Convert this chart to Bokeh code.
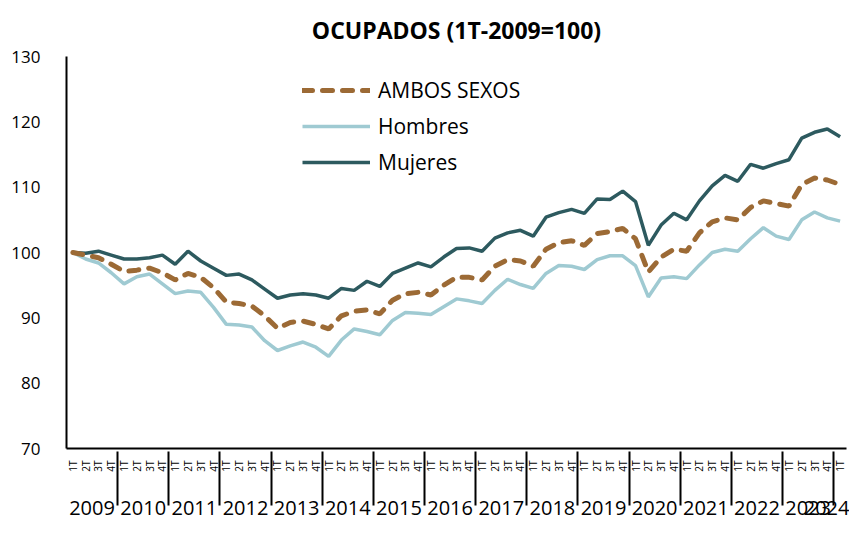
from bokeh.plotting import figure
from bokeh.models import FactorRange, Range1d, Legend, LegendItem, ColumnDataSource, FixedTicker
from bokeh.embed import file_html
from bokeh.resources import INLINE
import math

years = [str(y) for y in range(2009, 2025)]
quarters = ["1T", "2T", "3T", "4T"]
n_last_year = 1

ambos = [100.0, 99.6, 99.2, 98.2, 97.1, 97.3, 97.6, 96.9, 95.8, 96.8, 96.2, 94.6,
         92.4, 92.2, 91.8, 90.3, 88.4, 89.3, 89.5, 89.0, 88.3, 90.3, 91.0, 91.2,
         90.6, 92.7, 93.7, 93.9, 93.5, 95.0, 96.2, 96.2, 95.8, 97.9, 98.9, 98.7,
         97.9, 100.5, 101.5, 101.8, 101.1, 102.9, 103.2, 103.7, 102.1, 97.0, 99.3, 100.5,
         100.2, 103.0, 104.7, 105.3, 105.0, 106.9, 107.9, 107.5, 107.1, 110.4, 111.4, 111.1,
         110.4]
hombres = [100.0, 99.0, 98.4, 96.9, 95.2, 96.3, 96.7, 95.2, 93.7, 94.1, 93.9, 91.6,
           89.0, 88.9, 88.6, 86.5, 85.0, 85.7, 86.3, 85.5, 84.1, 86.6, 88.3, 87.9,
           87.4, 89.6, 90.8, 90.7, 90.5, 91.7, 92.9, 92.6, 92.2, 94.2, 95.9, 95.1,
           94.5, 96.8, 98.0, 97.9, 97.4, 98.9, 99.5, 99.5, 98.0, 93.2, 96.1, 96.3,
           96.0, 98.1, 100.0, 100.5, 100.2, 102.1, 103.8, 102.5, 102.0, 105.0, 106.2, 105.3,
           104.8]
mujeres = [100.0, 99.9, 100.2, 99.6, 99.0, 99.0, 99.2, 99.6, 98.2, 100.2, 98.7, 97.6,
           96.5, 96.7, 95.8, 94.4, 93.0, 93.5, 93.7, 93.5, 93.0, 94.5, 94.2, 95.6,
           94.8, 96.8, 97.6, 98.4, 97.8, 99.3, 100.6, 100.7, 100.2, 102.2, 103.0, 103.4,
           102.5, 105.4, 106.1, 106.6, 106.0, 108.2, 108.1, 109.4, 107.8, 101.1, 104.2, 106.0,
           105.0, 107.9, 110.2, 111.8, 110.9, 113.5, 112.9, 113.6, 114.2, 117.5, 118.4, 118.9,
           117.7]
y_ticks = [70, 80, 90, 100, 110, 120, 130]

# middle level is a blank spacer row between quarter labels and year labels
spacer = " "
factors = []
for y in years[:-1]:
    for q in quarters:
        factors.append((y, spacer, q))
for q in quarters[:n_last_year]:
    factors.append((years[-1], spacer, q))

src = ColumnDataSource(dict(x=factors, ambos=ambos, hombres=hombres, mujeres=mujeres))

p = figure(width=849, height=525,
           x_range=FactorRange(*factors, range_padding=0, group_padding=0,
                               subgroup_padding=0, factor_padding=0),
           y_range=Range1d(70, 130),
           output_backend="svg", toolbar_location=None,
           min_border_left=66, min_border_right=3, min_border_top=55, min_border_bottom=77)

p.title.text = "OCUPADOS (1T-2009=100)"
p.title.align = "center"
p.title.text_font = "Open Sans"
p.title.text_font_size = "23px"
p.title.text_font_style = "bold"
p.title.text_color = "black"
p.title.standoff = 22

c_ambos = "#9c6a35"
c_hom = "#9fcad2"
c_muj = "#2d5a5f"

r_h = p.line("x", "hombres", source=src, line_color=c_hom, line_width=3.5)
r_m = p.line("x", "mujeres", source=src, line_color=c_muj, line_width=3.5)
r_a = p.line("x", "ambos", source=src, line_color=c_ambos, line_width=5,
             line_dash="10 10", line_cap="round")

p.xgrid.visible = False
p.ygrid.visible = False
p.outline_line_color = None

ya = p.yaxis[0]
ya.ticker = FixedTicker(ticks=y_ticks)
ya.axis_line_color = "black"
ya.axis_line_width = 2
ya.major_tick_line_color = None
ya.minor_tick_line_color = None
ya.major_label_text_font = "Open Sans"
ya.major_label_text_font_size = "17px"
ya.major_label_text_color = "black"
ya.major_label_standoff = 20

xa = p.xaxis[0]
xa.axis_line_color = "black"
xa.axis_line_width = 2
xa.major_tick_line_color = None
xa.minor_tick_line_color = None
xa.major_label_orientation = math.pi / 2
xa.major_label_text_font = "Open Sans"
xa.major_label_text_font_size = "10px"
xa.major_label_text_color = "black"
xa.major_label_standoff = 6
xa.subgroup_text_font_size = "10px"
xa.subgroup_text_color = "black"
xa.group_text_font = "Open Sans"
xa.group_text_font_size = "20px"
xa.group_text_font_style = "normal"
xa.group_text_color = "black"
xa.separator_line_color = "black"
xa.separator_line_width = 2

legend = Legend(items=[LegendItem(label="AMBOS SEXOS", renderers=[r_a]),
                       LegendItem(label="Hombres", renderers=[r_h]),
                       LegendItem(label="Mujeres", renderers=[r_m])],
                location=(236, 271))
legend.label_text_font = "Open Sans"
legend.label_text_font_size = "21px"
legend.label_text_color = "black"
legend.glyph_width = 68
legend.glyph_height = 30
legend.label_height = 30
legend.spacing = 6
legend.padding = 0
legend.margin = 0
legend.label_standoff = 8
legend.border_line_color = None
legend.background_fill_alpha = 0
p.add_layout(legend)

open("out.html", "w").write(file_html(p, INLINE))
